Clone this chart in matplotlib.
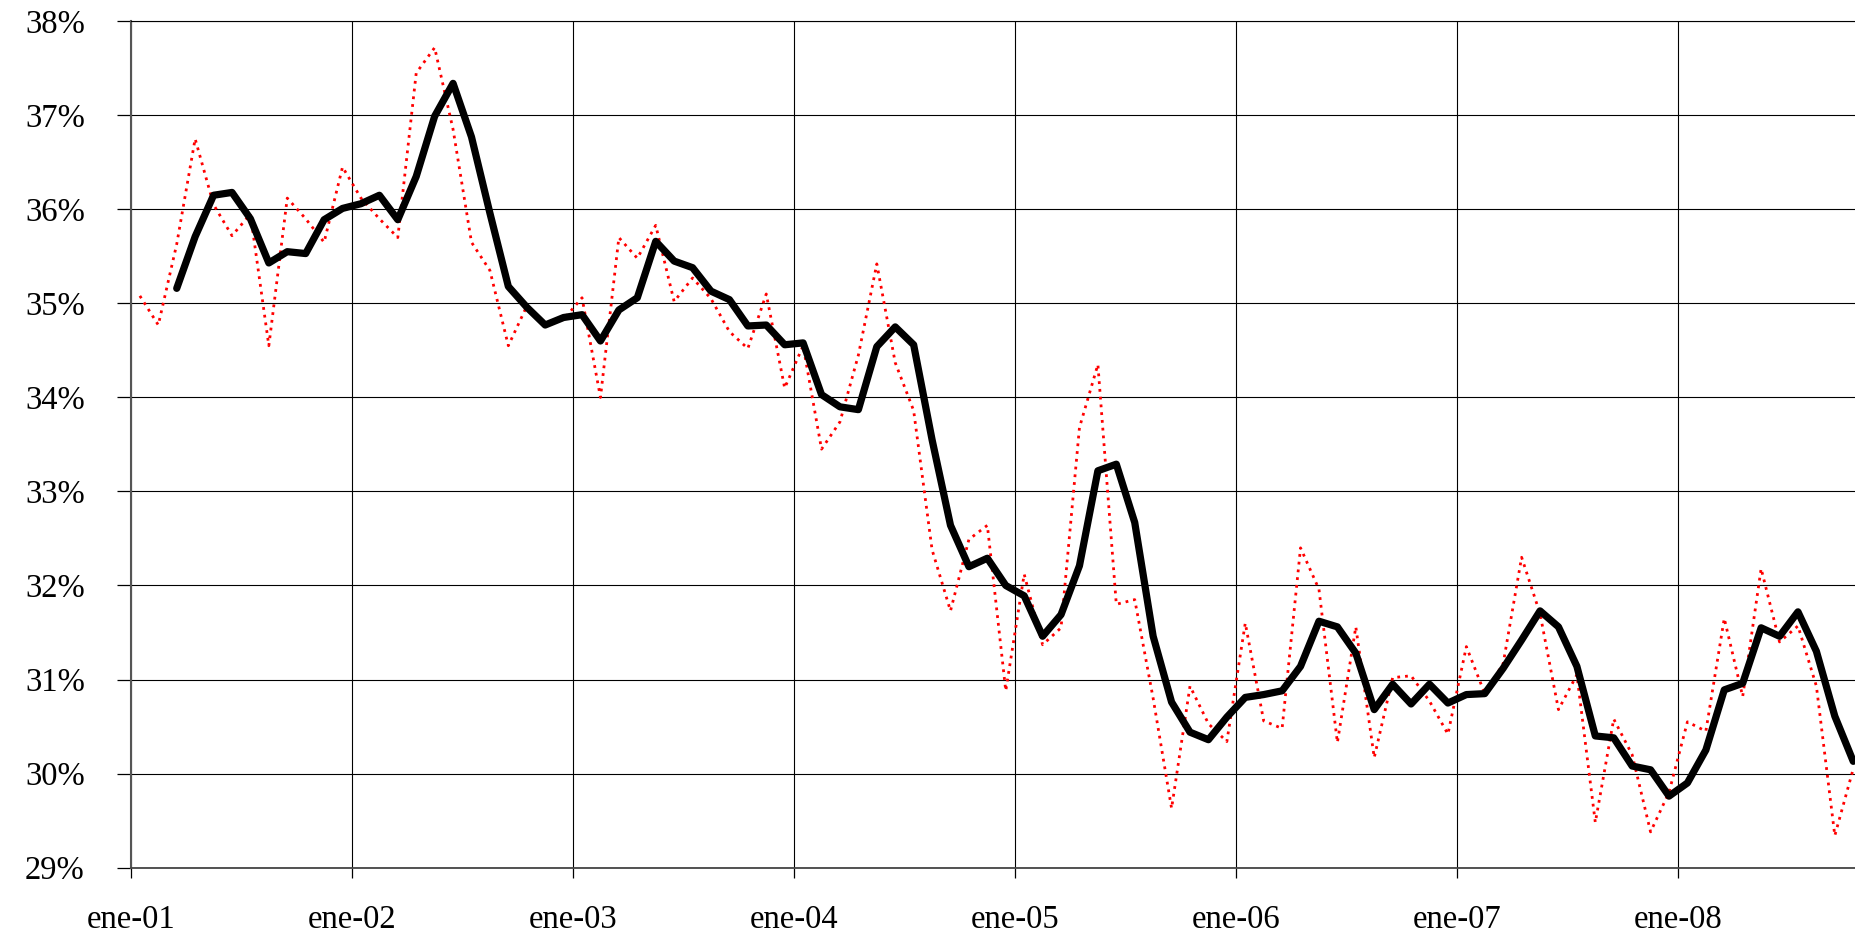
import matplotlib.pyplot as plt
from matplotlib.ticker import FuncFormatter

# Monthly values (%), Jan 2001 - Oct 2008
monthly = [35.08, 34.77, 35.63, 36.75, 36.05, 35.72, 35.95, 34.55, 36.12, 35.90, 35.65, 36.45,
           36.12, 35.90, 35.70, 37.45, 37.72, 36.85, 35.65, 35.35, 34.55, 34.97, 34.78, 34.83,
           35.06, 34.00, 35.70, 35.48, 35.83, 35.02, 35.27, 35.05, 34.70, 34.52, 35.10, 34.10,
           34.55, 33.45, 33.74, 34.45, 35.42, 34.37, 33.86, 32.38, 31.73, 32.49, 32.64, 30.88,
           32.12, 31.37, 31.55, 33.68, 34.35, 31.80, 31.85, 30.80, 29.63, 30.93, 30.53, 30.34,
           31.60, 30.56, 30.48, 32.40, 31.96, 30.33, 31.56, 30.17, 31.02, 31.04, 30.77, 30.42,
           31.35, 30.85, 31.17, 32.30, 31.70, 30.68, 31.05, 29.48, 30.58, 30.20, 29.38, 29.80,
           30.55, 30.45, 31.65, 30.82, 32.18, 31.40, 31.57, 30.93, 29.34, 30.05]

# Smoothed series (%), Mar 2001 - Oct 2008
smooth = [35.16, 35.71, 36.15, 36.18, 35.90, 35.43, 35.55, 35.53, 35.89, 36.01,
          36.06, 36.15, 35.89, 36.35, 36.99, 37.34, 36.77, 35.96, 35.18, 34.96, 34.77, 34.85,
          34.88, 34.60, 34.93, 35.06, 35.66, 35.45, 35.38, 35.13, 35.04, 34.76, 34.77, 34.56,
          34.58, 34.03, 33.90, 33.87, 34.54, 34.75, 34.56, 33.55, 32.64, 32.20, 32.29, 32.00,
          31.89, 31.46, 31.69, 32.21, 33.22, 33.29, 32.67, 31.46, 30.76, 30.44, 30.36, 30.60,
          30.81, 30.84, 30.88, 31.14, 31.62, 31.56, 31.28, 30.68, 30.95, 30.74, 30.95, 30.75,
          30.84, 30.85, 31.12, 31.42, 31.73, 31.56, 31.14, 30.40, 30.38, 30.08, 30.04, 29.76,
          29.90, 30.25, 30.89, 30.96, 31.55, 31.46, 31.72, 31.30, 30.61, 30.13]
smooth_start = 2

year_labels = ['ene-01', 'ene-02', 'ene-03', 'ene-04', 'ene-05', 'ene-06', 'ene-07', 'ene-08']
y_ticks = [29, 30, 31, 32, 33, 34, 35, 36, 37, 38]

plt.rcParams['font.family'] = ['Liberation Serif', 'DejaVu Serif']

fig = plt.figure(figsize=(18.56, 9.34), dpi=100)
ax = fig.add_axes([0.0704, 0.0711, 0.9296, 0.9061])

x_month = list(range(len(monthly)))
x_smooth = list(range(smooth_start, smooth_start + len(smooth)))

# monthly series: red dotted
ax.plot(x_month, monthly, color='#ff0000', linewidth=2.0,
        linestyle=(0, (1.0, 1.8)), zorder=3)
# smoothed series: thick black
ax.plot(x_smooth, smooth, color='black', linewidth=5.2,
        solid_joinstyle='round', solid_capstyle='round', zorder=4)

# axes limits, ticks and grid
ax.set_xlim(-0.5, 93.15)
ax.set_ylim(29, 38)
ax.set_yticks(y_ticks)
ax.yaxis.set_major_formatter(FuncFormatter(lambda v, p: f'{v:.0f}%'))
ax.set_xticks([12 * k - 0.5 for k in range(len(year_labels))])
ax.set_xticklabels(year_labels)

ax.grid(True, color='black', linewidth=0.8)
ax.set_axisbelow(True)
ax.tick_params(axis='y', direction='out', length=10, width=0.9, pad=23, labelsize=23.5)
ax.tick_params(axis='x', direction='out', length=7.5, width=0.9, pad=19, labelsize=23.5)

ax.spines['right'].set_visible(False)
ax.spines['top'].set_linewidth(0.8)
ax.spines['left'].set_color('#555555')
ax.spines['left'].set_linewidth(1.5)
ax.spines['bottom'].set_color('#444444')
ax.spines['bottom'].set_linewidth(1.3)

fig.savefig('out.png', dpi=100)
